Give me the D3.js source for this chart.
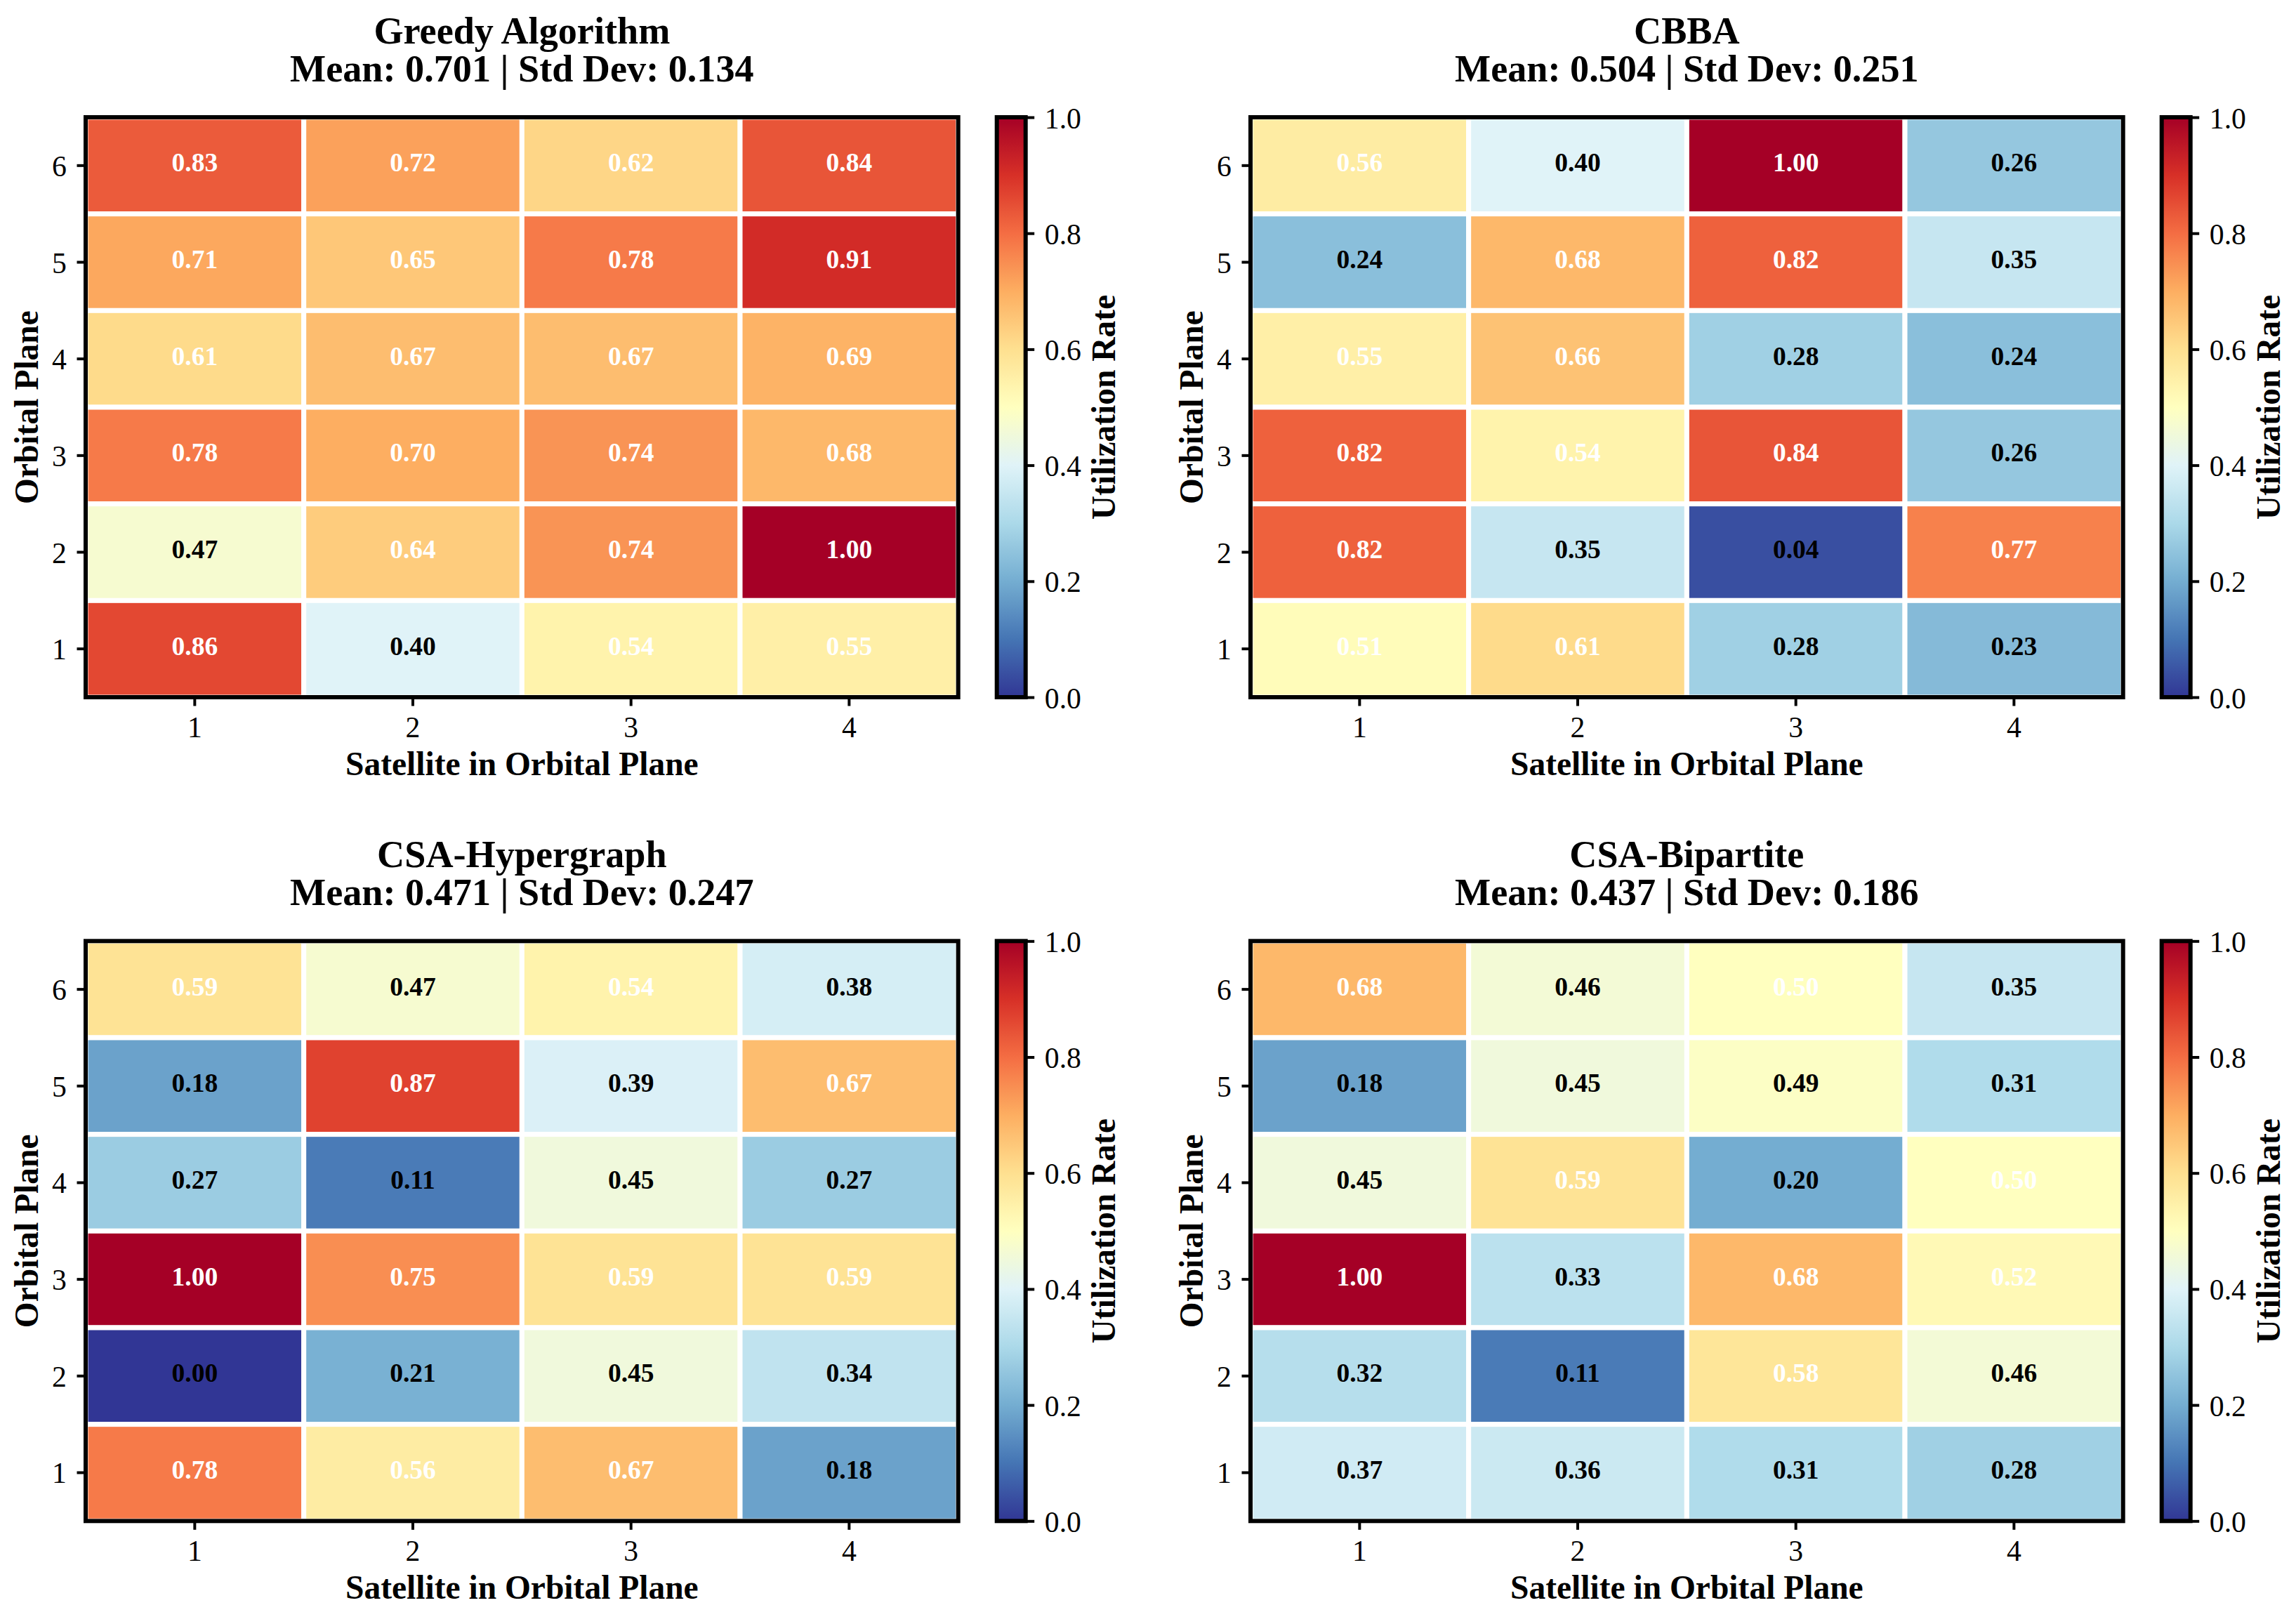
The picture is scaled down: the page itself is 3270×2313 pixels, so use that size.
<!DOCTYPE html>
<html>
<head>
<meta charset="utf-8">
<script src="https://cdn.jsdelivr.net/npm/d3@7"></script>
<style>
  html, body { margin: 0; padding: 0; background: #fff; }
  svg { display: block; }
</style>
</head>
<body>
<script>
// ---------------- DATA ----------------
const satellites = [1, 2, 3, 4];
const planes = [6, 5, 4, 3, 2, 1]; // top to bottom
const algorithms = ["Greedy Algorithm", "CBBA", "CSA-Hypergraph", "CSA-Bipartite"];
const means = ["0.701", "0.504", "0.471", "0.437"];
const stds = ["0.134", "0.251", "0.247", "0.186"];
const colorbarTicks = [0, 0.2, 0.4, 0.6, 0.8, 1.0];

// rows: plane 6 -> 1, columns: satellite 1 -> 4
const greedy = [
  [0.83, 0.72, 0.62, 0.84],
  [0.71, 0.65, 0.78, 0.91],
  [0.61, 0.67, 0.67, 0.69],
  [0.78, 0.70, 0.74, 0.68],
  [0.47, 0.64, 0.74, 1.00],
  [0.86, 0.40, 0.54, 0.55]
];
const cbba = [
  [0.56, 0.40, 1.00, 0.26],
  [0.24, 0.68, 0.82, 0.35],
  [0.55, 0.66, 0.28, 0.24],
  [0.82, 0.54, 0.84, 0.26],
  [0.82, 0.35, 0.04, 0.77],
  [0.51, 0.61, 0.28, 0.23]
];
const csaHypergraph = [
  [0.59, 0.47, 0.54, 0.38],
  [0.18, 0.87, 0.39, 0.67],
  [0.27, 0.11, 0.45, 0.27],
  [1.00, 0.75, 0.59, 0.59],
  [0.00, 0.21, 0.45, 0.34],
  [0.78, 0.56, 0.67, 0.18]
];
const csaBipartite = [
  [0.68, 0.46, 0.50, 0.35],
  [0.18, 0.45, 0.49, 0.31],
  [0.45, 0.59, 0.20, 0.50],
  [1.00, 0.33, 0.68, 0.52],
  [0.32, 0.11, 0.58, 0.46],
  [0.37, 0.36, 0.31, 0.28]
];
const datasets = [greedy, cbba, csaHypergraph, csaBipartite];

// RdYlBu_r colormap stops
const cmapColors = ["#313695","#4575b4","#74add1","#abd9e9","#e0f3f8","#ffffbf",
                    "#fee090","#fdae61","#f46d43","#d73027","#a50026"];

// ---------------- LAYOUT ----------------
const FONT = "'Liberation Serif','Times New Roman',Times,serif";
const WIDTH = 3270, HEIGHT = 2313;
const colLeft = [122, 1781];
const rowTop = [167, 1340.3];
const AW = 1242.7, AH = 826;
const CB_OFF = 1297.7, CB_W = 41;
const TICK_LEN = 12.5, TICK_PAD = 14.6;
const LABEL_SIZE = 47.5;

const color = d3.scaleLinear()
  .domain(d3.range(cmapColors.length).map(i => i / (cmapColors.length - 1)))
  .range(cmapColors)
  .interpolate(d3.interpolateRgb)
  .clamp(true);

const svg = d3.select("body").append("svg")
  .attr("width", WIDTH).attr("height", HEIGHT)
  .attr("viewBox", `0 0 ${WIDTH} ${HEIGHT}`);
svg.append("rect").attr("width", WIDTH).attr("height", HEIGHT).attr("fill", "#fff");

const defs = svg.append("defs");
const grad = defs.append("linearGradient").attr("id", "cbgrad")
  .attr("x1", 0).attr("y1", 1).attr("x2", 0).attr("y2", 0);
d3.range(0, 1.0001, 0.02).forEach(t => {
  grad.append("stop").attr("offset", t).attr("stop-color", color(t));
});

function styleAxis(g) {
  g.select(".domain").remove();
  g.attr("font-family", FONT).attr("font-size", 41.7);
  g.selectAll(".tick line").attr("stroke", "#000").attr("stroke-width", 4);
  g.selectAll(".tick text").attr("fill", "#000");
}

datasets.forEach((data, i) => {
  const col = i % 2, row = Math.floor(i / 2);
  const left = colLeft[col], top = rowTop[row];
  const g = svg.append("g");

  const x = d3.scaleBand().domain(satellites).range([left, left + AW]).padding(0);
  const y = d3.scaleBand().domain(planes).range([top, top + AH]).padding(0);

  const cells = [];
  data.forEach((r, ri) => r.forEach((v, ci) => cells.push({ p: planes[ri], s: satellites[ci], v })));

  g.selectAll("rect.cell").data(cells).join("rect")
    .attr("class", "cell")
    .attr("x", d => x(d.s)).attr("y", d => y(d.p))
    .attr("width", x.bandwidth()).attr("height", y.bandwidth())
    .attr("fill", d => color(d.v))
    .attr("stroke", "#fff").attr("stroke-width", 7);

  g.selectAll("text.ann").data(cells).join("text")
    .attr("class", "ann")
    .attr("x", d => x(d.s) + x.bandwidth() / 2)
    .attr("y", d => y(d.p) + y.bandwidth() / 2 + 8.5)
    .attr("text-anchor", "middle")
    .attr("font-family", FONT).attr("font-weight", "bold").attr("font-size", 37.5)
    .attr("fill", d => d.v >= 0.5 ? "#fff" : "#000")
    .text(d => d3.format(".2f")(d.v));

  // spines
  g.append("rect").attr("x", left).attr("y", top).attr("width", AW).attr("height", AH)
    .attr("fill", "none").attr("stroke", "#000").attr("stroke-width", 6);

  // axes
  g.append("g").attr("transform", `translate(0,${top + AH})`)
    .call(d3.axisBottom(x).tickSize(TICK_LEN).tickPadding(TICK_PAD))
    .call(styleAxis);
  g.append("g").attr("transform", `translate(${left},0)`)
    .call(d3.axisLeft(y).tickSize(TICK_LEN).tickPadding(TICK_PAD))
    .call(styleAxis)
    .call(a => a.selectAll(".tick text").attr("dy", "0.36em"));

  // titles
  const cx = left + AW / 2;
  g.append("text").attr("x", cx).attr("y", top - 105.3)
    .attr("text-anchor", "middle").attr("font-family", FONT)
    .attr("font-weight", "bold").attr("font-size", 54.2)
    .text(algorithms[i]);
  g.append("text").attr("x", cx).attr("y", top - 51)
    .attr("text-anchor", "middle").attr("font-family", FONT)
    .attr("font-weight", "bold").attr("font-size", 54.2)
    .text(`Mean: ${means[i]} | Std Dev: ${stds[i]}`);

  // axis labels
  g.append("text").attr("x", cx).attr("y", top + AH + 111)
    .attr("text-anchor", "middle").attr("font-family", FONT)
    .attr("font-weight", "bold").attr("font-size", LABEL_SIZE)
    .text("Satellite in Orbital Plane");
  g.append("text")
    .attr("transform", `translate(${left - 68},${top + AH / 2}) rotate(-90)`)
    .attr("text-anchor", "middle").attr("font-family", FONT)
    .attr("font-weight", "bold").attr("font-size", LABEL_SIZE)
    .text("Orbital Plane");

  // colorbar
  const cbx = left + CB_OFF;
  const cs = d3.scaleLinear().domain([0, 1]).range([top + AH, top]);
  g.append("rect").attr("x", cbx).attr("y", top).attr("width", CB_W).attr("height", AH)
    .attr("fill", "url(#cbgrad)");
  g.append("rect").attr("x", cbx).attr("y", top).attr("width", CB_W).attr("height", AH)
    .attr("fill", "none").attr("stroke", "#000").attr("stroke-width", 6);
  g.append("g").attr("transform", `translate(${cbx + CB_W},0)`)
    .call(d3.axisRight(cs).tickValues(colorbarTicks).tickFormat(d3.format(".1f"))
      .tickSize(TICK_LEN).tickPadding(TICK_PAD))
    .call(styleAxis)
    .call(a => a.selectAll(".tick text").attr("dy", "0.36em"));
  g.append("text")
    .attr("transform", `translate(${cbx + CB_W + 127},${top + AH / 2}) rotate(-90)`)
    .attr("text-anchor", "middle").attr("font-family", FONT)
    .attr("font-weight", "bold").attr("font-size", LABEL_SIZE)
    .text("Utilization Rate");
});
</script>
</body>
</html>
